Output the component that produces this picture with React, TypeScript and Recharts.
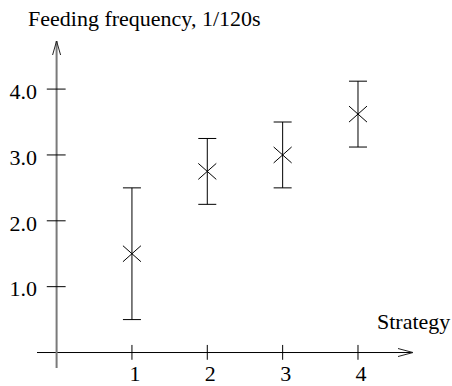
import React from 'react';
import {
  ScatterChart,
  Scatter,
  XAxis,
  YAxis,
  ErrorBar,
  ReferenceLine,
} from 'recharts';

const strategies = [1, 2, 3, 4];
const feedingFreq = [1.5, 2.75, 3.0, 3.62];
const freqError = [1.0, 0.5, 0.5, 0.5];
const xTicks = [1, 2, 3, 4];
const yTicks = [1, 2, 3, 4];

const titleText = 'Feeding frequency, 1/120s';
const xAxisText = 'Strategy';

const FONT = '"Liberation Serif", "Times New Roman", serif';
const FONT_SIZE = 22;

const data = strategies.map((s, i) => ({
  strategy: s,
  freq: feedingFreq[i],
  err: freqError[i],
}));

// diagonal cross marker
const CrossMark = (props: any) => {
  const { cx, cy } = props;
  if (cx == null || cy == null) return null;
  return (
    <g stroke="#000" strokeWidth={1}>
      <line x1={cx - 9} y1={cy - 8} x2={cx + 9} y2={cy + 8} />
      <line x1={cx - 9} y1={cy + 8} x2={cx + 9} y2={cy - 8} />
    </g>
  );
};

// axis line with an open arrow head at the far end
const arrowLine = (vertical: boolean, color: string, width: number) => (props: any) => {
  const { x1, y1, x2, y2 } = props;
  let tipX: number, tipY: number, tailX: number, tailY: number;
  if (vertical) {
    tipX = x1;
    tipY = Math.min(y1, y2);
    tailX = x1;
    tailY = Math.max(y1, y2);
  } else {
    tipY = y1;
    tipX = Math.max(x1, x2);
    tailY = y1;
    tailX = Math.min(x1, x2);
  }
  const head = vertical
    ? `M${tipX - 4},${tipY + 14} L${tipX},${tipY} L${tipX + 4},${tipY + 14}`
    : `M${tipX - 15},${tipY - 4} L${tipX},${tipY} L${tipX - 15},${tipY + 4}`;
  return (
    <g>
      <line x1={tailX} y1={tailY} x2={tipX} y2={tipY} stroke={color} strokeWidth={width} />
      <path d={head} fill="none" stroke="#222" strokeWidth={1} />
    </g>
  );
};

export default function App() {
  return (
    <div style={{ position: 'absolute', left: 0, top: 0, background: '#fff' }}>
      <ScatterChart
        width={452}
        height={386}
        margin={{ top: 41, right: 39, bottom: 0, left: 0 }}
      >
        <XAxis
          type="number"
          dataKey="strategy"
          domain={[-0.26, 4.73]}
          ticks={xTicks}
          axisLine={false}
          tickLine={false}
          tickSize={0}
          tickMargin={0}
          height={18}
          interval={0}
          tick={{ fontSize: FONT_SIZE, fill: '#000', fontFamily: FONT, dx: 3, dy: -3 }}
          label={{
            content: () => (
              <text x={377} y={329} fontSize={FONT_SIZE} fontFamily={FONT} fill="#000">
                {xAxisText}
              </text>
            ),
          }}
        />
        <YAxis
          type="number"
          dataKey="freq"
          domain={[-0.235, 4.73]}
          ticks={yTicks}
          axisLine={false}
          tickLine={false}
          tickSize={0}
          tickMargin={0}
          width={37}
          interval={0}
          tickFormatter={(v: number) => v.toFixed(1)}
          tick={{ fontSize: FONT_SIZE, fill: '#000', fontFamily: FONT, dy: 2 }}
          label={{
            content: () => (
              <text x={28} y={26} fontSize={FONT_SIZE} fontFamily={FONT} fill="#000">
                {titleText}
              </text>
            ),
          }}
        />
        <ReferenceLine y={0} shape={arrowLine(false, '#000', 1)} />
        <ReferenceLine x={0} shape={arrowLine(true, '#7a7a7a', 2)} />
        {xTicks.map((t) => (
          <ReferenceLine
            key={`xt${t}`}
            segment={[
              { x: t, y: -0.11 },
              { x: t, y: 0.115 },
            ]}
            stroke="#000"
            strokeWidth={1}
          />
        ))}
        {yTicks.map((t) => (
          <ReferenceLine
            key={`yt${t}`}
            segment={[
              { x: -0.13, y: t },
              { x: 0.12, y: t },
            ]}
            stroke="#000"
            strokeWidth={1}
          />
        ))}
        <Scatter data={data} shape={<CrossMark />} isAnimationActive={false}>
          <ErrorBar
            dataKey="err"
            direction="y"
            width={9}
            stroke="#000"
            strokeWidth={1}
            isAnimationActive={false}
          />
        </Scatter>
      </ScatterChart>
    </div>
  );
}
